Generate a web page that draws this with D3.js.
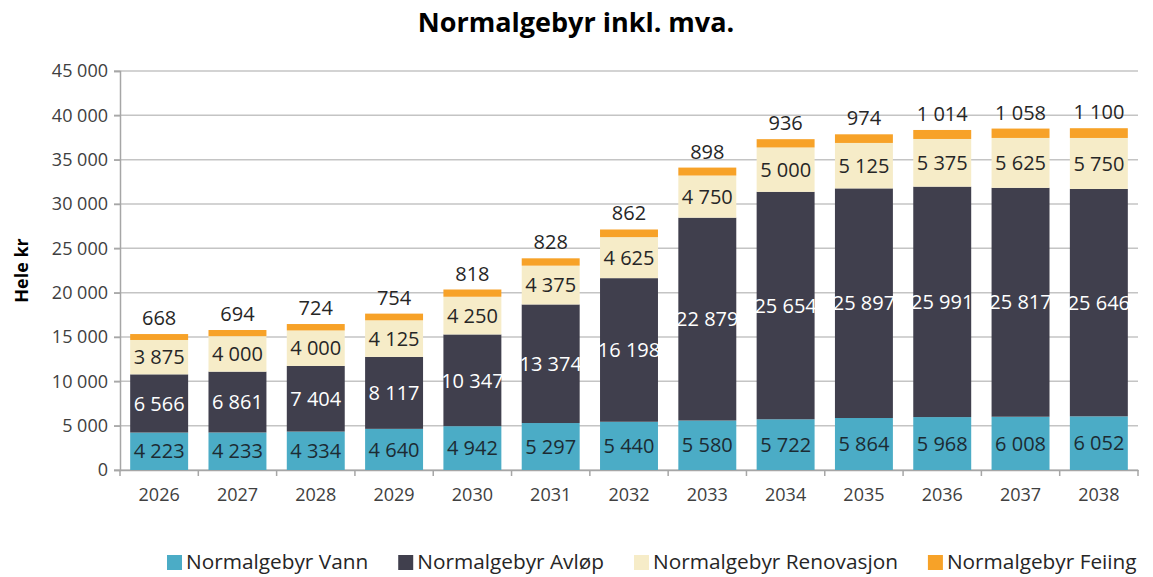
<!DOCTYPE html>
<html>
<head>
<meta charset="utf-8">
<script src="https://cdn.jsdelivr.net/npm/d3@7"></script>
<style>
  body { margin: 0; background: #fff; }
  svg { font-family: "Open Sans", sans-serif; }
</style>
</head>
<body>
<div id="chart"></div>
<script>
const years = ['2026', '2027', '2028', '2029', '2030', '2031', '2032', '2033', '2034', '2035', '2036', '2037', '2038'];
const vann = [4223, 4233, 4334, 4640, 4942, 5297, 5440, 5580, 5722, 5864, 5968, 6008, 6052];
const avlop = [6566, 6861, 7404, 8117, 10347, 13374, 16198, 22879, 25654, 25897, 25991, 25817, 25646];
const renovasjon = [3875, 4000, 4000, 4125, 4250, 4375, 4625, 4750, 5000, 5125, 5375, 5625, 5750];
const feiing = [668, 694, 724, 754, 818, 828, 862, 898, 936, 974, 1014, 1058, 1100];
const yTicks = [0, 5000, 10000, 15000, 20000, 25000, 30000, 35000, 40000, 45000];

const seriesNames = ['Normalgebyr Vann', 'Normalgebyr Avløp', 'Normalgebyr Renovasjon', 'Normalgebyr Feiing'];
const keys = ['vann', 'avlop', 'renovasjon', 'feiing'];
const colors = {vann: '#4bacc6', avlop: '#403f4d', renovasjon: '#f6ecc8', feiing: '#f7a228'};
const labelColors = {vann: '#1c2b33', avlop: '#ffffff', renovasjon: '#262626'};

const width = 1153, height = 577;
const margin = {top: 71, right: 15, bottom: 107, left: 120};

const locale = d3.formatLocale({decimal: ',', thousands: '\u00a0', grouping: [3], currency: ['', ' kr']});
const fmt = locale.format(',d');

const table = years.map((y, i) => ({year: y, vann: vann[i], avlop: avlop[i], renovasjon: renovasjon[i], feiing: feiing[i]}));
const stacked = d3.stack().keys(keys)(table);

const x = d3.scaleBand().domain(years)
    .range([margin.left, width - margin.right])
    .paddingInner(0.26).paddingOuter(0.13);
const y = d3.scaleLinear().domain([0, 45000])
    .range([height - margin.bottom, margin.top]);

const svg = d3.select('#chart').append('svg')
    .attr('width', width).attr('height', height);

// title
svg.append('text')
    .attr('x', 576).attr('y', 32)
    .attr('text-anchor', 'middle')
    .attr('font-size', 27).attr('font-weight', 'bold').attr('fill', '#000')
    .text('Normalgebyr inkl. mva.');

// gridlines
svg.append('g').selectAll('line').data(yTicks).join('line')
    .attr('x1', margin.left - 6).attr('x2', width - margin.right)
    .attr('y1', d => y(d)).attr('y2', d => y(d))
    .attr('stroke', '#c4c4c4').attr('stroke-width', 1.5);

// y axis
const yAxis = svg.append('g')
    .attr('transform', `translate(${margin.left},0)`)
    .call(d3.axisLeft(y).tickValues(yTicks).tickFormat(fmt).tickSize(6).tickPadding(6));
yAxis.select('.domain').attr('stroke', '#a6a6a6').attr('stroke-width', 1.5);
yAxis.selectAll('.tick line').attr('stroke', '#a6a6a6').attr('stroke-width', 1.5);
yAxis.selectAll('text').attr('font-size', 18).attr('fill', '#404040').attr('font-family', '"Open Sans", sans-serif');

// x axis
const xAxis = svg.append('g')
    .attr('transform', `translate(0,${y(0)})`)
    .call(d3.axisBottom(x).tickSize(0).tickPadding(18));
xAxis.select('.domain').attr('stroke', '#a6a6a6').attr('stroke-width', 1.5);
xAxis.selectAll('text').attr('font-size', 18).attr('fill', '#404040').attr('font-family', '"Open Sans", sans-serif');
const step = x.step();
svg.append('g').selectAll('line').data(d3.range(years.length + 1)).join('line')
    .attr('x1', i => margin.left + i * step).attr('x2', i => margin.left + i * step)
    .attr('y1', y(0)).attr('y2', y(0) + 6)
    .attr('stroke', '#a6a6a6').attr('stroke-width', 1.5);

// y label
svg.append('text')
    .attr('transform', `translate(28,${(y(0) + y(45000)) / 2}) rotate(-90)`)
    .attr('text-anchor', 'middle')
    .attr('font-size', 18).attr('font-weight', 'bold').attr('fill', '#000')
    .text('Hele kr');

// bars
const layers = svg.append('g').selectAll('g').data(stacked).join('g')
    .attr('fill', d => colors[d.key]);
layers.selectAll('rect').data(d => d).join('rect')
    .attr('x', d => x(d.data.year))
    .attr('width', x.bandwidth())
    .attr('y', d => y(d[1]))
    .attr('height', d => y(d[0]) - y(d[1]));

// labels inside segments
const inner = stacked.filter(s => s.key !== 'feiing');
svg.append('g').selectAll('g').data(inner).join('g')
    .each(function(s) {
        d3.select(this).selectAll('text').data(s).join('text')
            .attr('x', d => x(d.data.year) + x.bandwidth() / 2)
            .attr('y', d => (y(d[0]) + y(d[1])) / 2)
            .attr('dy', '0.36em')
            .attr('text-anchor', 'middle')
            .attr('font-size', 20)
            .attr('fill', labelColors[s.key])
            .text(d => fmt(d.data[s.key]));
    });

// labels above bars (feiing)
const feiLayer = stacked.find(s => s.key === 'feiing');
svg.append('g').selectAll('text').data(feiLayer).join('text')
    .attr('x', d => x(d.data.year) + x.bandwidth() / 2)
    .attr('y', d => y(d[1]) - 9)
    .attr('text-anchor', 'middle')
    .attr('font-size', 20)
    .attr('fill', '#262626')
    .text(d => fmt(d.data.feiing));

// legend
const legend = svg.append('g').attr('transform', 'translate(167,562)');
let lx = 0;
seriesNames.forEach((name, i) => {
    const g = legend.append('g').attr('transform', `translate(${lx},0)`);
    g.append('rect').attr('x', 0).attr('y', -7).attr('width', 15).attr('height', 15)
        .attr('fill', colors[keys[i]]);
    const t = g.append('text').attr('x', 19).attr('y', 0).attr('dy', '0.35em')
        .attr('font-size', 20.8).attr('fill', '#262626').text(name);
    lx += 19 + t.node().getComputedTextLength() + 30;
});
</script>
</body>
</html>
